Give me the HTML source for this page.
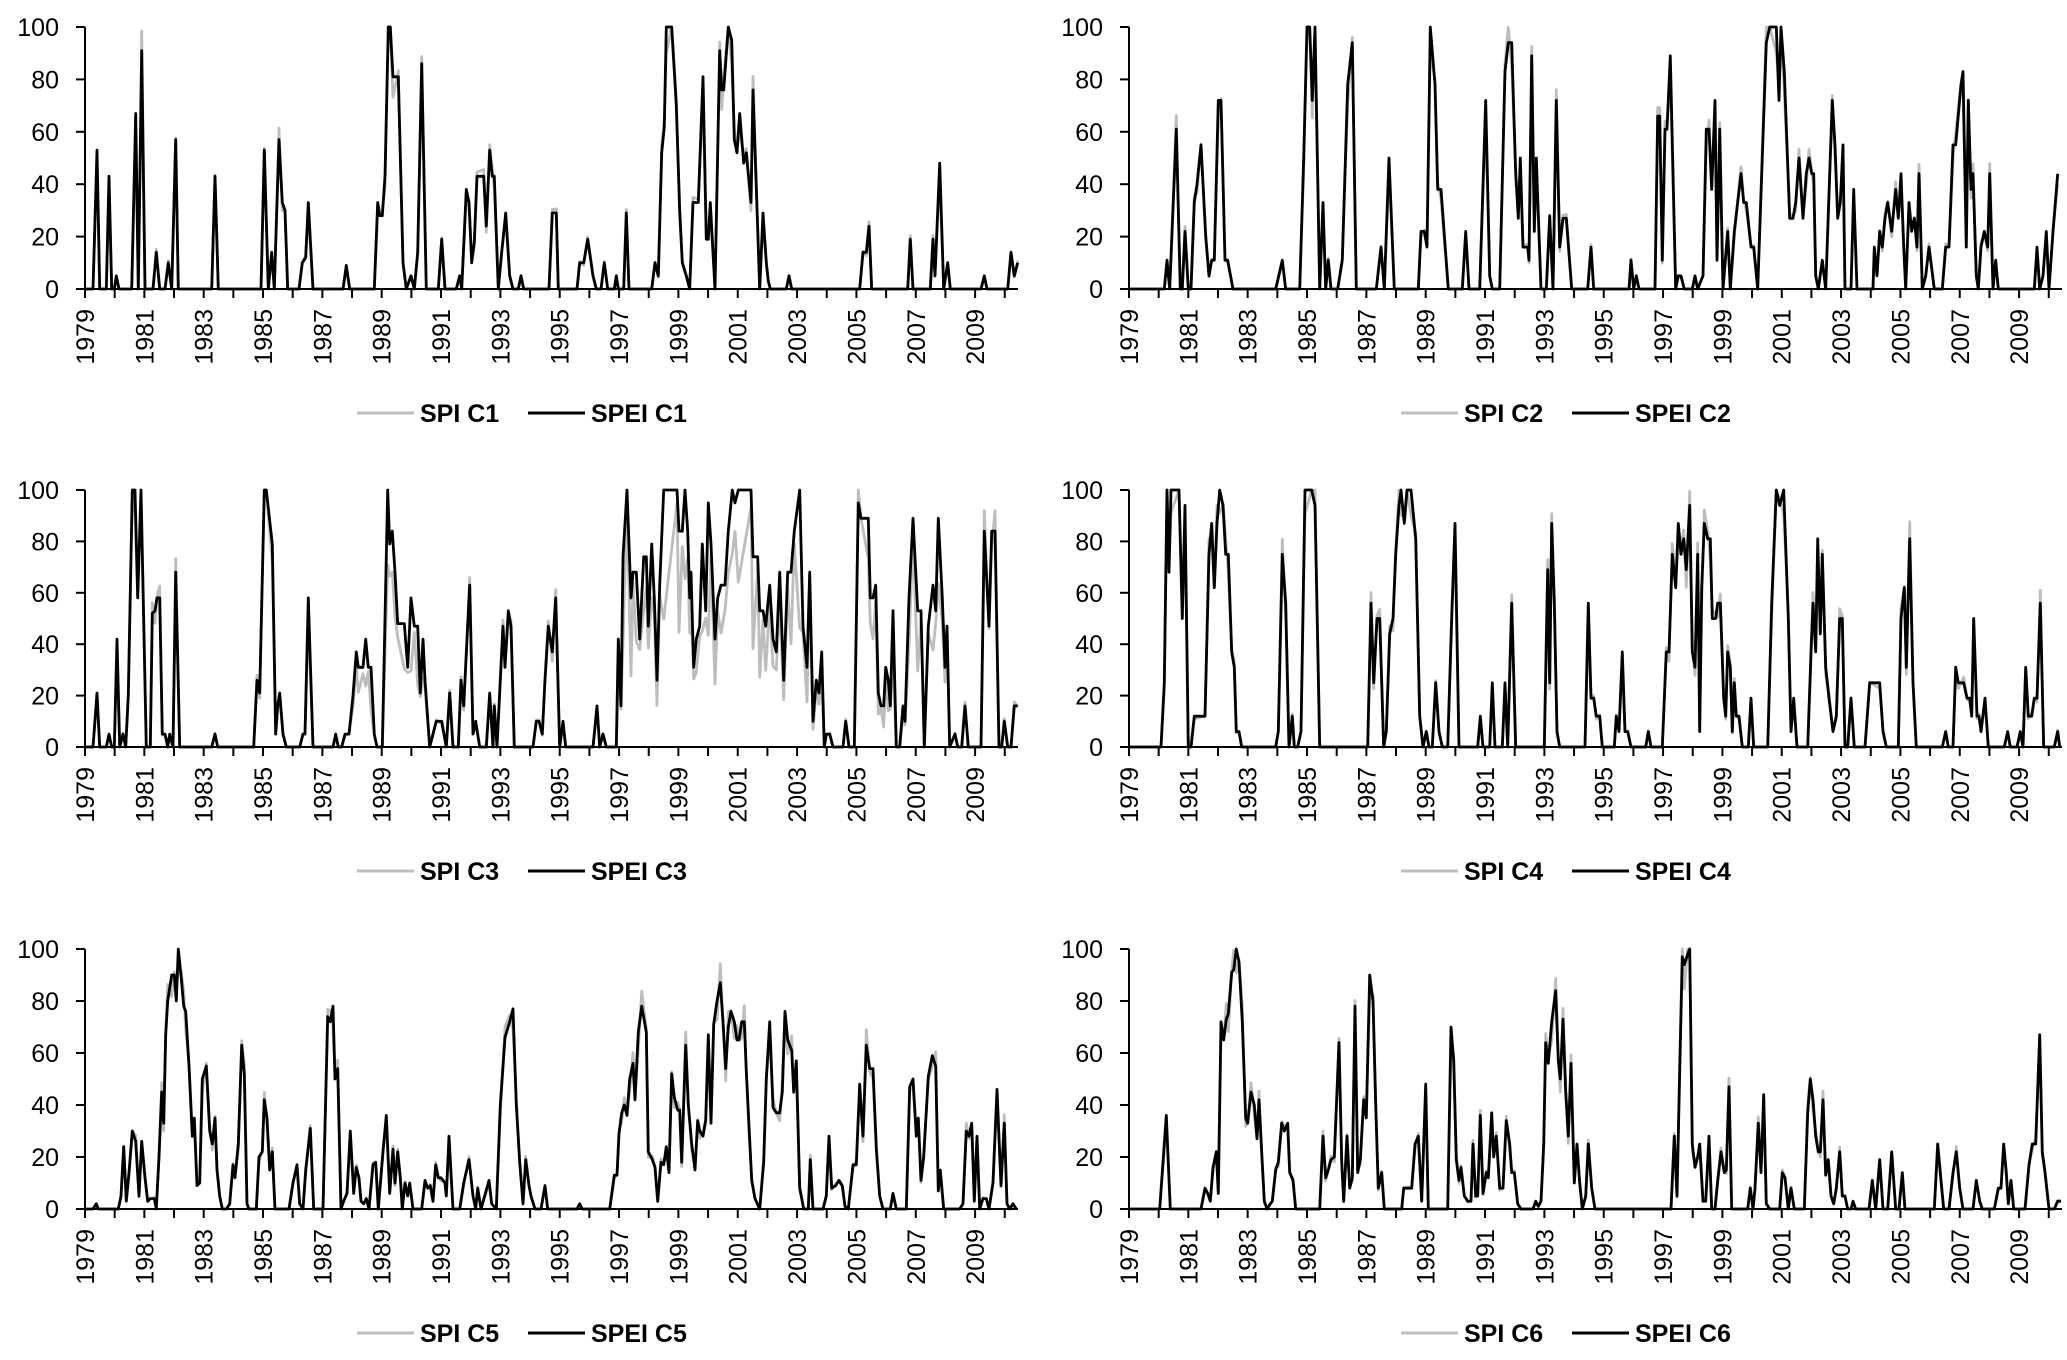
<!DOCTYPE html>
<html><head><meta charset="utf-8"><style>
html,body{margin:0;padding:0;background:#fff;}
svg{display:block;}
text{font-family:"Liberation Sans",sans-serif;fill:#000;}
</style></head><body>
<svg id="s" width="2067" height="1360" viewBox="0 0 2067 1360" xmlns="http://www.w3.org/2000/svg"></svg>
<script>
const D={
C1:[128,0,140,0,146,53,150,0,160,0,164,43,168,0,172,0,175,5,179,0,198,0,204,67,208,0,213,91,218,0,230,0,235,14,240,0,248,0,253,10,258,0,264,57,268,0,318,0,323,43,328,0,392,0,397,53,403,0,408,14,412,0,419,57,424,33,428,30,432,0,449,0,454,10,459,12,463,33,470,0,515,0,520,9,525,0,562,0,567,33,570,28,574,28,578,43,583,100,586,100,590,81,598,81,605,10,610,0,617,5,622,0,627,14,633,86,640,0,658,0,663,19,668,0,685,0,690,5,693,0,700,38,704,33,708,10,712,18,716,43,726,43,730,24,735,53,739,43,742,43,748,0,753,14,759,29,765,5,770,0,778,0,782,5,786,0,824,0,829,29,835,29,838,0,866,0,870,10,876,10,882,19,890,5,895,0,902,0,907,10,912,0,922,0,925,5,928,0,936,0,940,29,944,0,978,0,983,10,988,5,993,52,997,62,1000,100,1008,100,1015,70,1020,30,1024,10,1030,5,1035,0,1040,33,1048,33,1055,81,1060,19,1063,19,1066,33,1073,0,1080,91,1083,76,1086,76,1093,100,1098,95,1102,57,1106,52,1110,67,1116,48,1120,52,1127,33,1130,76,1140,0,1145,29,1150,10,1153,3,1156,0,1180,0,1184,5,1188,0,1290,0,1295,14,1300,14,1304,24,1308,0,1362,0,1366,19,1370,0,1396,0,1400,19,1403,5,1410,48,1416,0,1422,10,1426,0,1472,0,1477,5,1481,0,1512,0,1517,14,1522,5,1527,10],
C2:[142,0,195,0,199,11,203,0,213,61,219,0,222,0,226,22,231,0,235,0,240,33,244,40,250,55,257,20,262,5,266,11,270,11,276,72,280,72,286,11,290,11,298,0,362,0,372,11,377,0,398,0,404,50,409,100,413,100,417,72,421,100,428,0,433,33,437,0,441,11,445,0,455,0,462,11,470,78,477,94,483,0,513,0,520,16,525,0,532,50,540,0,576,0,580,22,585,22,589,16,594,100,601,78,605,38,610,38,621,0,642,0,647,22,652,0,668,0,677,72,683,5,687,0,698,0,706,83,711,94,716,94,722,44,726,27,729,50,733,16,740,16,742,11,746,89,750,22,753,50,760,0,768,0,773,28,778,0,783,72,788,16,793,27,798,27,806,0,830,0,835,16,839,0,892,0,895,11,899,0,903,5,907,0,931,0,935,66,938,66,942,11,946,61,949,61,954,89,962,0,966,5,970,5,975,0,987,0,991,5,995,0,1003,5,1008,61,1012,61,1016,38,1021,72,1024,11,1028,61,1033,0,1040,22,1044,0,1050,22,1060,44,1064,33,1068,33,1075,16,1079,16,1085,0,1098,94,1103,100,1113,100,1117,72,1120,100,1125,83,1133,27,1138,27,1142,33,1147,50,1153,27,1158,44,1162,50,1166,44,1169,44,1172,5,1176,0,1182,11,1187,0,1197,72,1201,55,1205,27,1209,33,1213,55,1216,0,1225,0,1229,38,1234,0,1258,0,1260,16,1264,5,1268,22,1272,16,1276,27,1280,33,1286,22,1292,38,1296,27,1300,44,1304,16,1307,0,1312,33,1316,22,1320,27,1324,16,1327,44,1332,0,1337,5,1342,16,1350,0,1362,0,1367,16,1372,16,1378,55,1382,55,1390,78,1393,83,1398,16,1401,72,1405,38,1408,44,1413,5,1416,0,1420,16,1425,22,1430,16,1433,44,1438,0,1442,11,1446,0,1500,0,1504,16,1508,0,1513,5,1518,22,1522,0,1528,22,1535,44],
C3:[128,0,140,0,146,21,150,0,160,0,164,5,168,0,172,0,176,42,180,0,185,5,189,0,193,20,199,100,203,100,207,58,212,100,220,0,226,0,229,52,233,53,236,58,240,58,244,5,248,5,252,0,255,5,260,0,264,68,270,0,318,0,323,5,327,0,381,0,386,26,390,21,397,100,400,100,409,79,414,5,417,16,420,21,425,5,430,0,450,0,455,5,458,5,463,58,470,0,500,0,504,5,508,0,513,0,518,5,524,5,530,20,535,37,538,31,545,31,549,42,553,31,557,31,562,5,566,0,574,0,582,100,585,79,589,84,593,68,597,48,607,48,612,31,617,58,622,47,627,47,631,21,635,42,638,26,645,0,655,10,663,10,670,0,675,21,680,0,688,0,692,26,696,16,705,63,710,5,714,10,720,0,730,0,735,21,740,0,742,16,746,0,755,47,758,31,763,53,767,47,772,0,800,0,805,10,809,10,814,5,818,26,823,47,829,37,834,58,840,0,845,10,849,0,890,0,896,16,900,0,905,5,910,0,925,0,928,42,932,16,935,74,941,100,947,58,950,68,955,68,960,42,966,74,970,74,973,47,978,79,982,58,986,26,990,63,996,100,1016,100,1019,84,1024,84,1028,100,1032,84,1035,58,1037,68,1041,31,1045,42,1050,47,1054,79,1059,53,1063,95,1067,79,1073,42,1077,58,1082,63,1088,63,1093,84,1099,100,1103,95,1108,100,1127,100,1130,74,1137,74,1140,53,1145,53,1149,47,1155,63,1160,42,1165,37,1170,68,1176,26,1182,68,1187,68,1192,84,1200,100,1205,47,1211,31,1215,68,1220,10,1225,26,1229,21,1233,37,1237,0,1240,5,1245,5,1250,0,1265,0,1269,10,1274,0,1282,0,1288,95,1292,89,1303,89,1306,58,1310,58,1314,63,1318,21,1322,16,1326,16,1329,31,1333,26,1336,16,1340,53,1345,0,1350,0,1355,16,1358,10,1364,58,1370,89,1377,53,1382,53,1387,0,1393,47,1400,63,1404,53,1408,89,1414,58,1418,31,1421,47,1425,0,1433,5,1437,0,1443,0,1448,16,1453,0,1472,0,1477,84,1484,47,1488,84,1493,84,1499,0,1503,0,1507,10,1512,0,1517,0,1522,16,1527,16],
C4:[142,0,190,0,195,25,199,100,202,68,205,100,217,100,222,50,226,94,231,0,235,0,240,12,256,12,262,75,266,87,270,62,274,87,278,100,283,94,287,75,291,75,296,37,300,31,303,6,307,6,311,0,362,0,366,6,372,75,377,56,382,0,387,12,390,0,395,0,400,6,406,100,416,100,421,94,428,0,500,0,505,56,509,25,514,50,518,50,524,0,528,6,533,44,538,50,542,75,547,94,550,100,555,87,559,100,565,100,572,81,578,12,583,0,588,6,592,0,597,0,602,25,607,6,612,0,620,0,626,50,631,87,637,0,665,0,669,12,673,0,683,0,687,25,691,0,702,0,706,25,710,0,716,56,722,0,765,0,770,69,773,25,776,87,780,56,784,6,788,0,826,0,831,56,835,19,839,19,843,12,848,12,852,0,870,0,873,12,877,6,882,37,886,6,890,6,895,0,917,0,921,6,925,0,942,0,948,37,952,37,957,75,962,62,966,87,970,75,974,81,978,69,983,94,987,37,991,31,995,75,998,6,1001,62,1005,87,1010,81,1014,81,1017,50,1022,50,1025,56,1029,56,1034,19,1037,12,1040,37,1044,31,1047,6,1050,25,1053,12,1057,12,1062,0,1071,0,1075,19,1079,0,1100,0,1106,56,1113,100,1118,94,1124,100,1131,50,1135,6,1139,19,1144,0,1160,0,1165,37,1168,56,1172,37,1175,81,1179,44,1182,75,1187,31,1192,19,1198,6,1203,12,1208,50,1212,50,1216,0,1220,0,1225,19,1230,0,1246,0,1253,25,1268,25,1273,6,1278,0,1296,0,1300,50,1305,62,1308,31,1313,81,1318,25,1323,0,1362,0,1367,6,1371,0,1378,0,1382,31,1386,25,1394,25,1399,19,1403,19,1406,12,1409,50,1414,12,1417,12,1420,6,1426,19,1431,0,1455,0,1460,6,1464,0,1474,0,1479,6,1483,0,1487,31,1491,12,1496,12,1500,19,1504,19,1509,56,1514,0,1530,0,1535,6,1538,0],
C5:[128,0,140,0,145,2,148,0,178,0,182,5,186,24,190,3,194,14,199,30,204,26,209,5,213,26,218,12,222,3,226,4,232,4,235,0,239,20,243,45,246,33,249,67,252,80,258,90,262,90,265,80,268,100,272,90,276,78,279,76,284,55,289,28,292,35,296,9,300,10,304,50,310,55,315,30,319,25,323,35,326,15,330,5,334,0,340,0,345,2,350,17,353,12,358,25,363,63,367,52,371,2,374,0,385,0,389,20,394,22,397,42,401,35,405,15,409,22,413,0,434,0,440,10,446,17,450,2,455,0,459,15,466,31,471,0,485,0,492,74,496,72,500,78,503,50,507,54,512,0,516,3,521,6,526,30,531,6,535,16,539,12,542,3,546,2,550,4,554,0,560,17,564,18,568,0,575,22,580,36,585,6,590,23,593,10,597,22,601,12,604,0,608,10,612,5,615,10,620,0,633,0,638,11,642,8,646,9,650,3,654,17,658,12,662,12,668,10,670,5,674,28,680,0,690,0,696,10,704,19,710,5,714,0,717,8,722,0,734,11,738,2,745,0,751,40,758,66,765,72,770,77,775,40,780,18,785,2,789,19,794,9,797,5,803,0,812,0,818,9,822,0,866,0,870,2,874,0,915,0,922,13,926,13,929,29,933,37,937,40,941,36,945,50,950,56,953,42,958,68,963,78,970,68,973,22,979,19,983,16,987,3,992,18,996,17,1000,24,1004,14,1008,52,1012,43,1017,38,1020,38,1023,18,1029,63,1033,40,1038,25,1043,15,1047,34,1050,30,1055,28,1059,34,1063,67,1067,33,1071,71,1076,80,1081,87,1085,72,1089,54,1093,70,1097,76,1102,72,1106,65,1109,65,1113,72,1117,72,1120,53,1124,32,1128,11,1133,4,1140,0,1146,18,1150,50,1155,72,1160,39,1165,37,1170,37,1174,45,1178,76,1182,65,1188,61,1191,45,1195,57,1200,8,1206,0,1213,0,1216,19,1220,0,1235,0,1240,5,1244,28,1248,8,1254,9,1259,11,1264,9,1268,1,1273,0,1280,17,1285,17,1290,48,1295,28,1300,63,1305,54,1310,54,1315,23,1320,5,1325,0,1336,0,1340,6,1345,0,1360,0,1365,47,1370,50,1375,28,1378,35,1382,11,1386,20,1393,51,1399,59,1404,55,1408,7,1411,15,1416,0,1440,0,1445,2,1450,30,1454,28,1458,33,1462,3,1466,28,1470,0,1475,4,1480,4,1484,0,1490,10,1496,46,1502,9,1507,33,1511,2,1515,0,1520,2,1525,0],
C6:[142,0,188,0,198,36,204,0,250,0,256,8,260,6,264,3,268,16,273,22,276,6,280,72,284,65,288,73,291,75,296,91,299,92,303,100,307,95,312,72,317,35,320,33,325,45,330,40,334,27,337,42,341,22,345,3,349,0,354,2,357,3,362,15,366,18,371,33,375,30,380,33,383,14,388,11,392,0,428,0,433,28,437,12,441,15,445,19,450,20,457,64,461,18,464,3,469,28,473,8,477,12,481,78,485,14,489,19,494,42,498,35,503,90,508,80,512,40,516,8,521,14,525,0,551,0,554,8,566,8,571,25,576,28,581,3,587,48,591,0,620,0,625,70,629,57,633,19,637,11,640,16,645,5,650,3,655,3,658,25,662,5,665,5,669,36,673,6,678,14,681,12,686,37,689,20,693,28,698,8,703,8,708,34,713,25,716,14,720,14,725,2,730,0,748,0,752,3,756,1,760,3,764,25,767,64,771,56,776,72,782,84,786,57,789,50,793,73,797,45,801,28,805,56,810,10,814,25,818,10,822,0,827,5,831,25,836,8,841,0,955,0,960,28,964,5,968,53,972,97,975,94,980,98,983,100,987,25,991,16,995,20,998,25,1003,3,1007,3,1012,28,1016,0,1021,0,1025,11,1030,22,1035,14,1038,15,1042,47,1046,0,1070,0,1074,8,1078,0,1081,8,1086,33,1090,14,1094,44,1098,2,1103,0,1118,0,1122,14,1126,12,1131,0,1135,8,1140,0,1155,0,1160,37,1164,50,1168,42,1172,28,1176,22,1179,22,1183,42,1187,13,1191,19,1195,5,1199,2,1203,8,1208,22,1212,5,1216,5,1220,0,1225,0,1228,3,1232,0,1252,0,1257,11,1262,0,1268,19,1273,0,1280,0,1286,22,1292,0,1297,0,1302,14,1306,0,1350,0,1355,25,1360,11,1364,0,1372,0,1378,14,1383,22,1388,8,1393,0,1408,0,1413,11,1418,3,1422,0,1440,0,1446,8,1450,8,1454,25,1458,14,1461,2,1465,11,1469,0,1486,0,1492,17,1497,25,1502,25,1508,67,1512,22,1516,14,1522,0,1530,0,1535,3,1540,3]
};
const svg=document.getElementById('s');
let html='';
const panels=[
 {k:'C1',x0:85,z0:128,y0:289,h:262},
 {k:'C2',x0:1129,z0:142,y0:289,h:262},
 {k:'C3',x0:85,z0:128,y0:747,h:257},
 {k:'C4',x0:1129,z0:142,y0:747,h:257},
 {k:'C5',x0:85,z0:128,y0:1209,h:260},
 {k:'C6',x0:1129,z0:142,y0:1209,h:260}];
const yr=29.67;
panels.forEach(p=>{
 const a=D[p.k];
 let b=[],g=[];
 for(let i=0;i<a.length;i+=2){
  const zx=a[i],v=a[i+1];
  const x=(p.x0+(zx-p.z0)/1.5).toFixed(1);
  const j=i/2;
  let gv;
  if(p.k==='C3' && ((zx>525&&zx<645)||(zx>925&&zx<1240)||(zx>1300&&zx<1420))) gv=v*(0.45+0.5*Math.abs(Math.sin(j*1.7)));
  else gv=Math.min(100,v*(1+0.1*Math.sin(j*2.1)));
  b.push(x+','+(p.y0-v*p.h/100).toFixed(1));
  g.push(x+','+(p.y0-gv*p.h/100).toFixed(1));
 }
 html+=`<polyline points="${g.join(' ')}" fill="none" stroke="#bdbdbd" stroke-width="2.8" stroke-linejoin="round"/>`;
 html+=`<polyline points="${b.join(' ')}" fill="none" stroke="#000" stroke-width="2.8" stroke-linejoin="round"/>`;
 html+=`<line x1="${p.x0}" y1="${p.y0-p.h}" x2="${p.x0}" y2="${p.y0}" stroke="#000" stroke-width="2"/>`;
 html+=`<line x1="${p.x0}" y1="${p.y0}" x2="${p.x0+933}" y2="${p.y0}" stroke="#000" stroke-width="2"/>`;
 for(let t=0;t<=100;t+=20){
  const y=p.y0-t*p.h/100;
  html+=`<line x1="${p.x0-9}" y1="${y}" x2="${p.x0}" y2="${y}" stroke="#000" stroke-width="2"/>`;
  html+=`<text x="${p.x0-26}" y="${y+9}" font-size="25" text-anchor="end">${t}</text>`;
 }
 for(let k=0;k<32;k++){
  const x=p.x0+k*yr;
  html+=`<line x1="${x}" y1="${p.y0}" x2="${x}" y2="${p.y0+9}" stroke="#000" stroke-width="2"/>`;
  if(k%2===0){
   html+=`<text transform="translate(${x+9},${p.y0+20}) rotate(-90)" font-size="25" text-anchor="end">${1979+k}</text>`;
  }
 }
 const lx=p.x0-85, ly=p.y0+124;
 html+=`<line x1="${lx+357}" y1="${ly}" x2="${lx+414}" y2="${ly}" stroke="#bdbdbd" stroke-width="3"/>`;
 html+=`<text x="${lx+420}" y="${ly+9}" font-size="25" font-weight="bold">SPI ${p.k}</text>`;
 html+=`<line x1="${lx+528}" y1="${ly}" x2="${lx+585}" y2="${ly}" stroke="#000" stroke-width="3"/>`;
 html+=`<text x="${lx+591}" y="${ly+9}" font-size="25" font-weight="bold">SPEI ${p.k}</text>`;
});
svg.innerHTML=html;
</script>
</body></html>
